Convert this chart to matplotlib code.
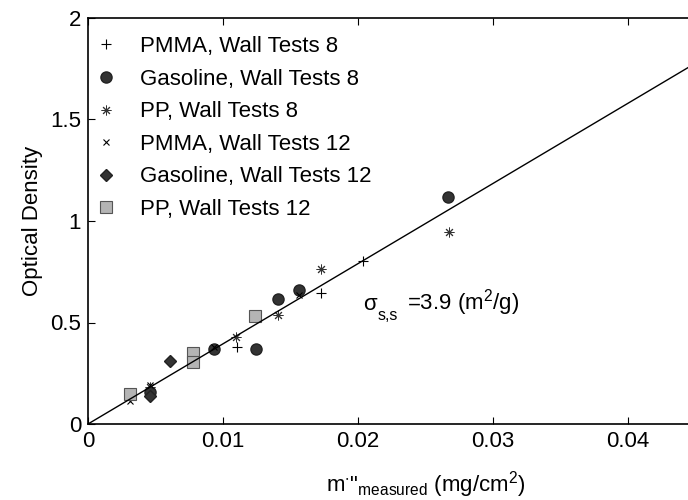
import matplotlib
matplotlib.use("Agg")
import matplotlib.pyplot as plt
import numpy as np

plt.rcParams['font.family'] = ['Liberation Sans', 'DejaVu Sans']
plt.rcParams['mathtext.default'] = 'regular'

# Data (m'' in mg/cm^2, optical density)
pmma8_x = [0.0110, 0.01724, 0.0204]
pmma8_y = [0.378, 0.647, 0.804]
gas8_x = [0.0046, 0.00933, 0.01242, 0.01405, 0.01565, 0.02669]
gas8_y = [0.160, 0.368, 0.368, 0.614, 0.660, 1.120]
pp8_x = [0.0046, 0.01094, 0.0141, 0.01724, 0.02677]
pp8_y = [0.180, 0.427, 0.537, 0.762, 0.947]
pmma12_x = [0.0031, 0.0046, 0.0093, 0.01565]
pmma12_y = [0.115, 0.190, 0.380, 0.635]
gas12_x = [0.0046, 0.0061]
gas12_y = [0.140, 0.312]
pp12_x = [0.0031, 0.0078, 0.0078, 0.01237]
pp12_y = [0.148, 0.348, 0.307, 0.533]
fit_slope = 39.5
fit_x = [0.0, 0.05]
xtick_vals = [0, 0.01, 0.02, 0.03, 0.04]
xtick_labels = ['0', '0.01', '0.02', '0.03', '0.04']
ytick_vals = [0, 0.5, 1, 1.5, 2]
ytick_labels = ['0', '0.5', '1', '1.5', '2']

fig = plt.figure(figsize=(6.88, 5.0), dpi=100)
ax = fig.add_axes([88/688, 76/500, 675/688, 406/500])

fs = 16
ax.plot(pmma8_x, pmma8_y, ls='none', marker='+', ms=7, mew=0.8, color='black',
        label='PMMA, Wall Tests 8')
ax.plot(gas8_x, gas8_y, ls='none', marker='o', ms=8, mfc='#333333', mec='#222222',
        label='Gasoline, Wall Tests 8')
ax.plot(pp8_x, pp8_y, ls='none', marker=(8, 2, 0), ms=7, mew=0.7, color='#333333',
        label='PP, Wall Tests 8')
ax.plot(pmma12_x, pmma12_y, ls='none', marker='x', ms=5, mew=0.8, color='black',
        label='PMMA, Wall Tests 12')
ax.plot(gas12_x, gas12_y, ls='none', marker='D', ms=6, mfc='#333333', mec='#222222',
        label='Gasoline, Wall Tests 12')
ax.plot(pp12_x, pp12_y, ls='none', marker='s', ms=8, mfc='#b4b4b4', mec='#555555',
        mew=0.8, label='PP, Wall Tests 12')

fx = np.array(fit_x)
ax.plot(fx, fit_slope * fx, color='black', lw=1)

ax.set_xlim(0, 0.05)
ax.set_ylim(0, 2)
ax.set_xticks(xtick_vals)
ax.set_xticklabels(xtick_labels)
ax.set_yticks(ytick_vals)
ax.set_yticklabels(ytick_labels)
ax.tick_params(direction='in', length=5, width=0.8, labelsize=fs, top=True, right=True, pad=5)
for s in ax.spines.values():
    s.set_linewidth(1.2)

ax.set_ylabel('Optical Density', fontsize=fs, labelpad=5)
ax.set_xlabel("m$^{\\cdot}$\"$_{measured}$ (mg/cm$^{2}$)", fontsize=fs, labelpad=12)

ax.text(0.02037, 0.5616, "\u03c3", fontsize=fs, va='baseline')
ax.text(0.02148, 0.512, "s,s", fontsize=11.5, va='baseline')
ax.text(0.02363, 0.5616, "=3.9 (m$^{2}$/g)", fontsize=fs, va='baseline')

leg = ax.legend(loc='upper left', frameon=False, fontsize=fs, handlelength=1.0,
                handletextpad=1.0, labelspacing=0.52, borderaxespad=0.2,
                bbox_to_anchor=(-0.009, 0.988))

fig.savefig('out.png', dpi=100)
